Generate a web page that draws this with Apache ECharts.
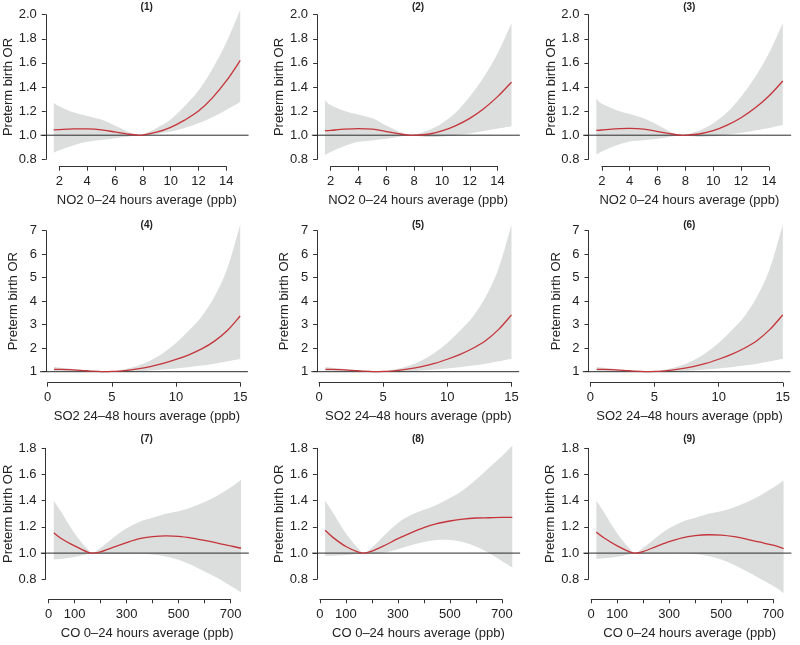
<!DOCTYPE html>
<html>
<head>
<meta charset="utf-8">
<script src="https://cdn.jsdelivr.net/npm/echarts@6/dist/echarts.min.js"></script>
<style>
html,body{margin:0;padding:0;background:#fff;}
#chart{width:800px;height:645px;}
</style>
</head>
<body>
<div id="chart"></div>
<script>
// ---------------- data ----------------
const panelTitles = ['(1)', '(2)', '(3)', '(4)', '(5)', '(6)', '(7)', '(8)', '(9)'];
const yAxisName = 'Preterm birth OR';
const no2AxisName = 'NO2 0\u201324 hours average (ppb)';
const so2AxisName = 'SO2 24\u201348 hours average (ppb)';
const coAxisName = 'CO 0\u201324 hours average (ppb)';
const coTickLabels = [0, 100, 300, 500, 700];

// NO2 exposure grid
const no2X = [1.6, 2, 3, 4, 5, 6, 7, 7.7, 8, 9, 10, 11, 12, 13, 14, 15];
const est1 = [1.045, 1.047, 1.052, 1.052, 1.045, 1.027, 1.008, 1.0, 1.002, 1.025, 1.065, 1.125, 1.20, 1.31, 1.45, 1.62];
const lo1  = [0.855, 0.875, 0.915, 0.945, 0.96, 0.975, 0.99, 1.0, 0.998, 1.01, 1.03, 1.06, 1.10, 1.15, 1.21, 1.275];
const hi1  = [1.27, 1.24, 1.19, 1.16, 1.13, 1.08, 1.025, 1.0, 1.006, 1.06, 1.13, 1.24, 1.37, 1.55, 1.77, 2.04];
const est2 = [1.037, 1.04, 1.05, 1.055, 1.05, 1.03, 1.01, 1.0, 1.0, 1.008, 1.035, 1.08, 1.14, 1.22, 1.32, 1.44];
const lo2  = [0.835, 0.86, 0.91, 0.945, 0.957, 0.97, 0.99, 1.0, 0.995, 0.985, 0.99, 1.0, 1.015, 1.035, 1.055, 1.075];
const hi2  = [1.29, 1.25, 1.20, 1.17, 1.14, 1.08, 1.025, 1.0, 1.005, 1.04, 1.10, 1.19, 1.32, 1.48, 1.68, 1.93];
const est3 = [1.04, 1.043, 1.052, 1.056, 1.05, 1.03, 1.01, 1.0, 1.0, 1.01, 1.037, 1.083, 1.145, 1.225, 1.325, 1.45];
const lo3  = [0.84, 0.865, 0.915, 0.948, 0.958, 0.97, 0.99, 1.0, 0.996, 0.988, 0.992, 1.003, 1.02, 1.04, 1.06, 1.085];
const hi3  = [1.30, 1.26, 1.21, 1.175, 1.14, 1.085, 1.025, 1.0, 1.005, 1.04, 1.10, 1.19, 1.32, 1.48, 1.68, 1.93];

// SO2 exposure grid
const so2X = [0.5, 1, 2, 3, 4, 4.5, 5, 6, 7, 8, 9, 10, 11, 12, 13, 14, 15];
const est4 = [1.10, 1.10, 1.08, 1.04, 1.01, 1.0, 1.01, 1.05, 1.12, 1.22, 1.35, 1.52, 1.72, 1.97, 2.3, 2.75, 3.37];
const lo4  = [1.02, 1.03, 1.03, 1.01, 0.99, 0.99, 0.99, 1.0, 1.02, 1.05, 1.09, 1.14, 1.19, 1.26, 1.34, 1.44, 1.54];
const hi4  = [1.20, 1.17, 1.12, 1.06, 1.02, 1.01, 1.02, 1.1, 1.25, 1.48, 1.8, 2.22, 2.75, 3.35, 4.2, 5.4, 7.25];
const est5 = [1.10, 1.10, 1.08, 1.04, 1.01, 1.0, 1.01, 1.05, 1.12, 1.22, 1.35, 1.53, 1.74, 2.0, 2.33, 2.8, 3.42];
const lo5  = [1.02, 1.03, 1.03, 1.01, 0.99, 0.99, 0.99, 1.0, 1.02, 1.05, 1.09, 1.14, 1.19, 1.26, 1.34, 1.44, 1.55];
const hi5  = [1.20, 1.17, 1.12, 1.06, 1.02, 1.01, 1.02, 1.1, 1.25, 1.48, 1.8, 2.22, 2.75, 3.35, 4.2, 5.4, 7.25];
const est6 = [1.10, 1.10, 1.08, 1.04, 1.01, 1.0, 1.01, 1.05, 1.12, 1.22, 1.35, 1.53, 1.74, 2.0, 2.33, 2.8, 3.42];
const lo6  = [1.02, 1.03, 1.03, 1.01, 0.99, 0.99, 0.99, 1.0, 1.02, 1.05, 1.09, 1.14, 1.19, 1.26, 1.34, 1.44, 1.55];
const hi6  = [1.20, 1.17, 1.12, 1.06, 1.02, 1.01, 1.02, 1.1, 1.25, 1.48, 1.8, 2.22, 2.75, 3.35, 4.2, 5.4, 7.25];

// CO exposure grid
const coX = [20, 50, 100, 150, 170, 200, 250, 300, 350, 400, 450, 500, 550, 600, 650, 700, 740];
const est7 = [1.155, 1.11, 1.055, 1.008, 1.0, 1.01, 1.045, 1.08, 1.11, 1.125, 1.132, 1.128, 1.115, 1.097, 1.077, 1.055, 1.037];
const lo7  = [0.952, 0.957, 0.97, 0.993, 1.0, 0.995, 0.993, 0.995, 0.995, 0.99, 0.975, 0.95, 0.91, 0.86, 0.81, 0.75, 0.70];
const hi7  = [1.40, 1.31, 1.15, 1.03, 1.0, 1.04, 1.12, 1.19, 1.24, 1.27, 1.30, 1.32, 1.35, 1.39, 1.44, 1.50, 1.56];
const est8 = [1.175, 1.12, 1.05, 1.005, 1.0, 1.015, 1.06, 1.11, 1.155, 1.195, 1.225, 1.245, 1.26, 1.268, 1.27, 1.272, 1.272];
const lo8  = [0.98, 0.98, 0.985, 0.995, 1.0, 0.997, 1.005, 1.03, 1.06, 1.085, 1.1, 1.1, 1.085, 1.05, 1.0, 0.94, 0.89];
const hi8  = [1.40, 1.31, 1.15, 1.03, 1.0, 1.04, 1.14, 1.23, 1.29, 1.33, 1.37, 1.42, 1.48, 1.56, 1.65, 1.74, 1.82];
const est9 = [1.16, 1.115, 1.055, 1.008, 1.0, 1.012, 1.05, 1.087, 1.117, 1.133, 1.14, 1.137, 1.125, 1.105, 1.083, 1.06, 1.035];
const lo9  = [0.955, 0.96, 0.972, 0.994, 1.0, 0.996, 0.995, 0.998, 0.998, 0.993, 0.978, 0.952, 0.91, 0.86, 0.805, 0.75, 0.695];
const hi9  = [1.40, 1.31, 1.15, 1.03, 1.0, 1.04, 1.12, 1.19, 1.24, 1.27, 1.30, 1.32, 1.35, 1.39, 1.44, 1.50, 1.555];

// extent of the plot region (x) = extent of the OR = 1 reference line
const no2RefRange = [0.65, 15.6];
const so2RefRange = [-0.6, 15.6];
const coRefRange = [-30, 770];

// ---------------- layout / styling ----------------
const FONT = "'Liberation Sans', Arial, Helvetica, sans-serif";
const TEXT = '#222';
const AXIS = '#333';
const BAND = '#dcdddd';
const RED = '#c4343a';
const COL_STEP = 271.3;

const rows = [
  { top: 14.7, height: 144.6, left: 59.3, width: 167, yOff: 13.5, xOff: 7.4, namePad: 8,
    x: no2X, ref: no2RefRange, yPlot: [0.7, 2.1], xName: no2AxisName, xMin: 2, xMax: 14, xInt: 2,
    yMin: 0.8, yMax: 2.0, yInt: 0.2, yFmt: v => v.toFixed(1), xFmt: v => String(v) },
  { top: 230.7, height: 141, left: 47.7, width: 192.5, yOff: 1.8, xOff: 11, namePad: 6,
    x: so2X, ref: so2RefRange, yPlot: [0.5, 7.6], xName: so2AxisName, xMin: 0, xMax: 15, xInt: 5,
    yMin: 1, yMax: 7, yInt: 1, yFmt: v => String(Math.round(v)), xFmt: v => String(v) },
  { top: 448.3, height: 131, left: 48.6, width: 182, yOff: 3, xOff: 20, namePad: 15,
    x: coX, ref: coRefRange, yPlot: [0.6, 1.9], xName: coAxisName, xMin: 0, xMax: 700, xInt: 100,
    yMin: 0.8, yMax: 1.8, yInt: 0.2, yFmt: v => v.toFixed(1),
    xFmt: v => (coTickLabels.indexOf(Math.round(v)) >= 0 ? String(Math.round(v)) : '') }
];

const panels = [
  [est1, lo1, hi1], [est2, lo2, hi2], [est3, lo3, hi3],
  [est4, lo4, hi4], [est5, lo5, hi5], [est6, lo6, hi6],
  [est7, lo7, hi7], [est8, lo8, hi8], [est9, lo9, hi9]
];

// Catmull-Rom -> cubic Bezier path through pixel points (rendering only)
function smoothPath(pts, moveFirst) {
  let d = (moveFirst ? 'M' : 'L') + pts[0][0] + ' ' + pts[0][1];
  const t = 1 / 6;
  for (let i = 0; i < pts.length - 1; i++) {
    const p0 = pts[Math.max(i - 1, 0)], p1 = pts[i], p2 = pts[i + 1], p3 = pts[Math.min(i + 2, pts.length - 1)];
    const c1 = [p1[0] + (p2[0] - p0[0]) * t, p1[1] + (p2[1] - p0[1]) * t];
    const c2 = [p2[0] - (p3[0] - p1[0]) * t, p2[1] - (p3[1] - p1[1]) * t];
    d += ' C' + c1[0] + ' ' + c1[1] + ' ' + c2[0] + ' ' + c2[1] + ' ' + p2[0] + ' ' + p2[1];
  }
  return d;
}

const grids = [], xAxes = [], yAxes = [], series = [], graphics = [];

panels.forEach((p, i) => {
  const r = rows[Math.floor(i / 3)];
  const col = i % 3;
  const left = r.left + col * COL_STEP;
  const sx = r.width / (r.xMax - r.xMin);
  const sy = r.height / (r.yMax - r.yMin);

  // grid 2i: axes (tick range) ; grid 2i+1: plot region holding the data
  grids.push({ left: left, top: r.top, width: r.width, height: r.height,
               containLabel: false, outerBoundsMode: 'none' });
  grids.push({
    left: left + (r.ref[0] - r.xMin) * sx,
    top: r.top - (r.yPlot[1] - r.yMax) * sy,
    width: (r.ref[1] - r.ref[0]) * sx,
    height: (r.yPlot[1] - r.yPlot[0]) * sy,
    containLabel: false, outerBoundsMode: 'none'
  });

  xAxes.push({
    type: 'value', gridIndex: 2 * i, min: r.xMin, max: r.xMax, interval: r.xInt,
    position: 'bottom', offset: r.xOff,
    name: r.xName, nameLocation: 'middle', nameGap: 27.5,
    nameTextStyle: { fontFamily: FONT, fontSize: 13, color: TEXT, padding: [0, 0, 0, r.namePad] },
    axisLine: { show: true, onZero: false, lineStyle: { color: AXIS, width: 1 } },
    axisTick: { show: true, length: 4, lineStyle: { color: AXIS } },
    axisLabel: { show: true, margin: 8.5, fontFamily: FONT, fontSize: 13, color: TEXT,
                 formatter: r.xFmt, showMinLabel: true, showMaxLabel: true, hideOverlap: false },
    splitLine: { show: false }
  });
  xAxes.push({ type: 'value', gridIndex: 2 * i + 1, min: r.ref[0], max: r.ref[1], show: false });

  yAxes.push({
    type: 'value', gridIndex: 2 * i, min: r.yMin, max: r.yMax, interval: r.yInt,
    position: 'left', offset: r.yOff,
    name: yAxisName, nameLocation: 'middle', nameGap: 26,
    nameTextStyle: { fontFamily: FONT, fontSize: 13, color: TEXT },
    axisLine: { show: true, onZero: false, lineStyle: { color: AXIS, width: 1 } },
    axisTick: { show: true, length: 4, lineStyle: { color: AXIS } },
    axisLabel: { show: true, margin: 9, fontFamily: FONT, fontSize: 13, color: TEXT,
                 formatter: r.yFmt, showMinLabel: true, showMaxLabel: true },
    splitLine: { show: false }
  });
  yAxes.push({ type: 'value', gridIndex: 2 * i + 1, min: r.yPlot[0], max: r.yPlot[1], show: false });

  const [est, lo, hi] = p;
  const ai = 2 * i + 1;
  // confidence band
  series.push({
    type: 'custom', coordinateSystem: 'cartesian2d', xAxisIndex: ai, yAxisIndex: ai, silent: true, z: 1,
    data: r.x.map((v, j) => [v, lo[j], hi[j]]),
    encode: { x: 0, y: [1, 2] },
    renderItem: (params, api) => {
      if (params.dataIndexInside !== 0) return null;
      const n = params.dataInsideLength;
      const top = [], bot = [];
      for (let k = 0; k < n; k++) {
        top.push(api.coord([api.value(0, k), api.value(2, k)]));
        bot.push(api.coord([api.value(0, k), api.value(1, k)]));
      }
      bot.reverse();
      const d = smoothPath(top, true) + ' ' + smoothPath(bot, false) + ' Z';
      return { type: 'path', shape: { pathData: d }, style: { fill: BAND, stroke: null } };
    }
  });
  // reference line OR = 1
  series.push({
    type: 'line', xAxisIndex: ai, yAxisIndex: ai, silent: true, z: 2,
    data: r.ref.map(v => [v, 1]),
    showSymbol: false, lineStyle: { color: '#2a2a2a', width: 1 }
  });
  // estimate curve
  series.push({
    type: 'custom', coordinateSystem: 'cartesian2d', xAxisIndex: ai, yAxisIndex: ai, silent: true, z: 3,
    data: r.x.map((v, j) => [v, est[j]]),
    encode: { x: 0, y: 1 },
    renderItem: (params, api) => {
      if (params.dataIndexInside !== 0) return null;
      const n = params.dataInsideLength;
      const pts = [];
      for (let k = 0; k < n; k++) pts.push(api.coord([api.value(0, k), api.value(1, k)]));
      return { type: 'path', shape: { pathData: smoothPath(pts, true) },
               style: { fill: null, stroke: RED, lineWidth: 1.3 } };
    }
  });

  const titleY = [6.8, 225, 439.3][Math.floor(i / 3)];
  graphics.push({
    type: 'text', x: 146.7 + col * COL_STEP, y: titleY, silent: true, z: 10,
    style: { text: panelTitles[i], font: 'bold 10px ' + FONT, fill: TEXT,
             align: 'center', verticalAlign: 'middle' }
  });
});

const chart = echarts.init(document.getElementById('chart'), null, { renderer: 'canvas' });
chart.setOption({
  animation: false,
  backgroundColor: '#ffffff',
  grid: grids,
  xAxis: xAxes,
  yAxis: yAxes,
  series: series,
  graphic: graphics
});
</script>
</body>
</html>
